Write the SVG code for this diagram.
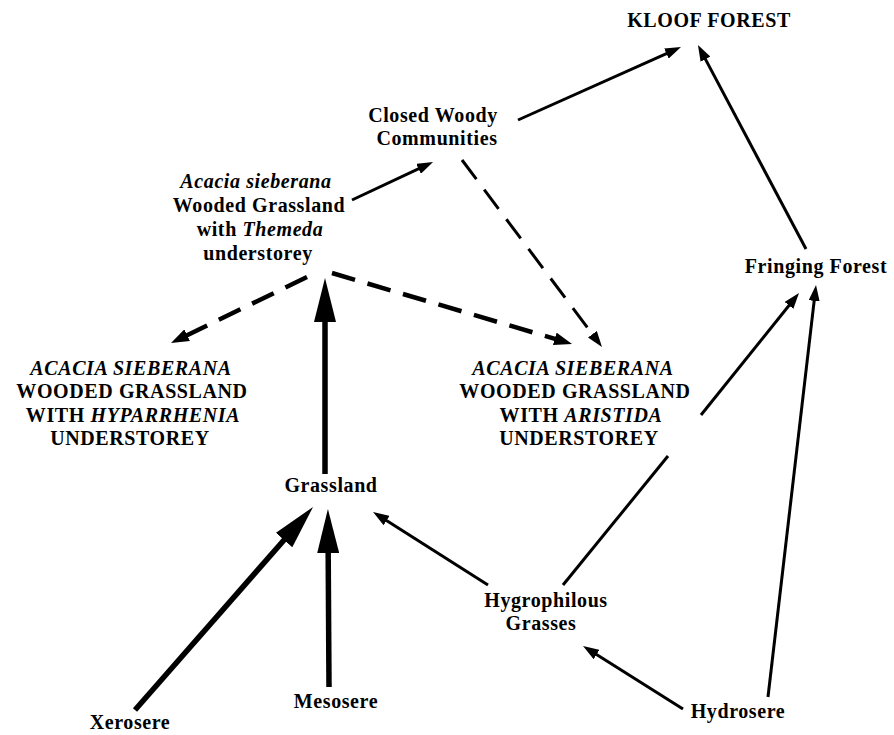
<svg xmlns="http://www.w3.org/2000/svg" width="894" height="735" viewBox="0 0 894 735">
<style>
  text { font-family: "Liberation Serif", "Times New Roman", serif; font-size: 20px; font-weight: bold; fill: #000; text-anchor: middle; letter-spacing: 0.6px; }
  .it { font-style: italic; }
  .ln { fill: none; stroke: #000; stroke-linecap: butt; }
  .thin { stroke-width: 3; }
  .med { stroke-width: 4.5; }
  .thick { stroke-width: 5.5; }
  .dash { stroke-dasharray: 24 13; }
</style>
<defs>
  <marker id="ah" markerUnits="userSpaceOnUse" markerWidth="16" markerHeight="11" refX="8" refY="5.5" orient="auto">
    <path d="M0,0 L16,5.5 L0,11 z" fill="#000"/>
  </marker>
  <marker id="ah2" markerUnits="userSpaceOnUse" markerWidth="18" markerHeight="13" refX="9" refY="6.5" orient="auto">
    <path d="M0,0 L18,6.5 L0,13 z" fill="#000"/>
  </marker>
  <marker id="big" markerUnits="userSpaceOnUse" markerWidth="44" markerHeight="22" refX="30" refY="11" orient="auto">
    <path d="M0,0 L44,11 L0,22 z" fill="#000"/>
  </marker>
</defs>
<rect width="894" height="735" fill="#fff"/>

<g id="connectors">
  <line class="ln thin" x1="518" y1="120" x2="673.7" y2="50.3" marker-end="url(#ah)"/>
  <line class="ln thin" x1="806" y1="249" x2="701.7" y2="52.1" marker-end="url(#ah)"/>
  <line class="ln thin" x1="352" y1="200" x2="425.8" y2="165.4" marker-end="url(#ah)"/>
  <line class="ln thin dash" x1="462" y1="160" x2="597.2" y2="340.6" marker-end="url(#ah)"/>
  <line class="ln med dash" x1="307" y1="277" x2="179.1" y2="339.1" marker-end="url(#ah2)"/>
  <line class="ln med dash" x1="332" y1="273" x2="563.4" y2="341.4" marker-end="url(#ah2)"/>
  <line class="ln thick" x1="325" y1="474" x2="325" y2="292" marker-end="url(#big)"/>
  <line class="ln thick" x1="135" y1="710" x2="303.8" y2="517.5" marker-end="url(#big)"/>
  <line class="ln thick" x1="329" y1="687" x2="328" y2="523" marker-end="url(#big)"/>
  <line class="ln thin" x1="488" y1="585" x2="379.8" y2="516.3" marker-end="url(#ah)"/>
  <line class="ln thin" x1="563" y1="585" x2="668" y2="456"/>
  <line class="ln thin" x1="701" y1="415" x2="794" y2="299.2" marker-end="url(#ah)"/>
  <line class="ln thin" x1="683" y1="709" x2="589.8" y2="650.3" marker-end="url(#ah)"/>
  <line class="ln thin" x1="768" y1="697" x2="815.1" y2="292.9" marker-end="url(#ah)"/>
</g>

<g id="kloof-forest">
  <text x="709" y="27">KLOOF FOREST</text>
</g>
<g id="closed-woody">
  <text x="433" y="122">Closed Woody</text>
  <text x="437" y="145">Communities</text>
</g>
<g id="themeda-grassland">
  <text x="256" y="188" class="it">Acacia sieberana</text>
  <text x="259" y="212">Wooded Grassland</text>
  <text x="260" y="236">with <tspan class="it">Themeda</tspan></text>
  <text x="258" y="260">understorey</text>
</g>
<g id="hyparrhenia-grassland">
  <text x="131" y="375" class="it">ACACIA SIEBERANA</text>
  <text x="132" y="398">WOODED GRASSLAND</text>
  <text x="133" y="422">WITH <tspan class="it">HYPARRHENIA</tspan></text>
  <text x="130" y="445">UNDERSTOREY</text>
</g>
<g id="aristida-grassland">
  <text x="573" y="375" class="it">ACACIA SIEBERANA</text>
  <text x="575" y="398">WOODED GRASSLAND</text>
  <text x="581" y="422">WITH <tspan class="it">ARISTIDA</tspan></text>
  <text x="579" y="445">UNDERSTOREY</text>
</g>
<g id="fringing-forest">
  <text x="816" y="273">Fringing Forest</text>
</g>
<g id="grassland">
  <text x="331" y="492">Grassland</text>
</g>
<g id="hygrophilous-grasses">
  <text x="546" y="607">Hygrophilous</text>
  <text x="541" y="630">Grasses</text>
</g>
<g id="xerosere">
  <text x="130" y="729">Xerosere</text>
</g>
<g id="mesosere">
  <text x="336" y="708">Mesosere</text>
</g>
<g id="hydrosere">
  <text x="738" y="718">Hydrosere</text>
</g>
</svg>
